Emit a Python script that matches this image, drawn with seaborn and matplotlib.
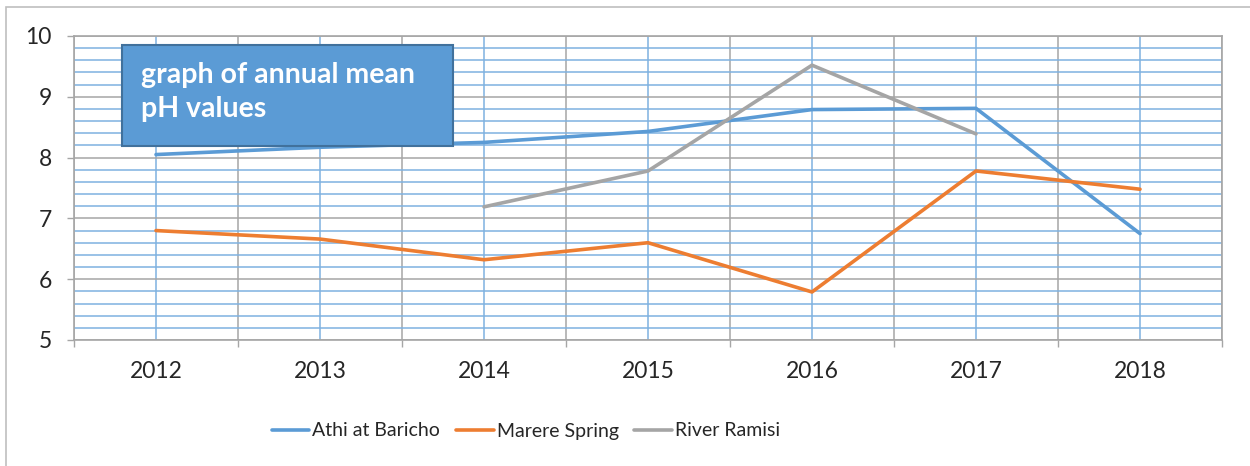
import numpy as np
import pandas as pd
import matplotlib
matplotlib.use("Agg")
import matplotlib.pyplot as plt
import seaborn as sns
from matplotlib.patches import Rectangle
from matplotlib.ticker import MultipleLocator, FixedLocator

# annual mean pH values
years = [2012, 2013, 2014, 2015, 2016, 2017, 2018]
athi = [8.05, 8.17, 8.25, 8.43, 8.79, 8.81, 6.75]
marere = [6.80, 6.66, 6.32, 6.60, 5.79, 7.78, 7.48]
ramisi = [np.nan, np.nan, 7.19, 7.78, 9.52, 8.39, np.nan]
series = ["Athi at Baricho", "Marere Spring", "River Ramisi"]
colors = ["#5B9BD5", "#ED7D31", "#A5A5A5"]

df = pd.DataFrame({"year": years, series[0]: athi, series[1]: marere, series[2]: ramisi})
df = df.melt(id_vars="year", var_name="site", value_name="pH").dropna()

sns.set_style("white")
plt.rcParams["font.family"] = ["Lato", "DejaVu Sans"]

fig = plt.figure(figsize=(12.5, 4.66), dpi=100)
ax = fig.add_axes([74 / 1250, 1 - 340 / 466, (1222 - 74) / 1250, (340 - 36) / 466])

# outer chart border
fig.add_artist(Rectangle((6 / 1250, -0.1), 1.2, 1 - 7 / 466 + 0.1, transform=fig.transFigure,
                         fill=False, edgecolor="#BFBFBF", linewidth=1.2))

sns.lineplot(data=df, x="year", y="pH", hue="site", hue_order=series, palette=colors,
             linewidth=2.6, ax=ax, legend=True, zorder=5)

ax.set_xlim(2011.5, 2018.5)
ax.set_ylim(5, 10)
ax.xaxis.set_major_locator(FixedLocator(years))
ax.xaxis.set_minor_locator(FixedLocator([y + 0.5 for y in [2011] + years]))
ax.yaxis.set_major_locator(MultipleLocator(1))
ax.yaxis.set_minor_locator(MultipleLocator(0.2))

ax.grid(which="major", axis="y", color="#A6A6A6", linewidth=1.1)
ax.grid(which="minor", axis="y", color="#7FB2E0", linewidth=1.1)
ax.grid(which="major", axis="x", color="#7FB2E0", linewidth=1.1)
ax.grid(which="minor", axis="x", color="#A6A6A6", linewidth=1.1)
ax.set_axisbelow(True)

for s in ax.spines.values():
    s.set_color("#A6A6A6")
    s.set_linewidth(1.2)

ax.tick_params(axis="y", which="major", length=5, width=1, color="#A6A6A6", pad=11,
               labelsize=16.5, labelcolor="#262626", left=True)
ax.tick_params(axis="y", which="minor", length=0)
ax.tick_params(axis="x", which="major", length=0, pad=15, labelsize=16.5, labelcolor="#262626")
ax.tick_params(axis="x", which="minor", length=5, width=1, color="#A6A6A6", bottom=True)
ax.set_xticklabels([str(y) for y in years])
ax.set_xlabel("")
ax.set_ylabel("")

handles, labels = ax.get_legend_handles_labels()
ax.get_legend().remove()
fig.legend(handles, labels, loc="center left", bbox_to_anchor=(254 / 1250, 1 - 431 / 466),
           ncol=3, frameon=False, fontsize=14, handlelength=1.95, handletextpad=0.15,
           columnspacing=0.8, labelcolor="#262626")

# title text box
fig.add_artist(Rectangle((122 / 1250, 1 - 146 / 466), (453 - 122) / 1250, (146 - 45) / 466,
                         transform=fig.transFigure, facecolor="#5B9BD5", edgecolor="#41719C",
                         linewidth=1.5, zorder=10))
fig.text(141 / 1250, 1 - 75 / 466, "graph of annual mean", color="white", fontsize=20.5,
         fontweight="bold", va="center", ha="left", zorder=11)
fig.text(141 / 1250, 1 - 109 / 466, "pH values", color="white", fontsize=20.5,
         fontweight="bold", va="center", ha="left", zorder=11)

fig.savefig("out.png", dpi=100)
